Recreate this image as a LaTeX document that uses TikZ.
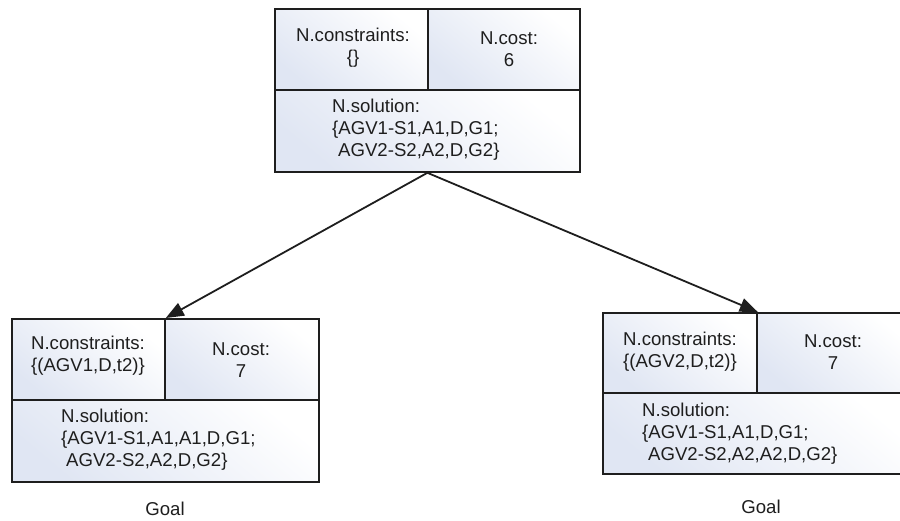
\documentclass[tikz,border=0pt]{standalone}
\usepackage{fontspec}
\setmainfont{Liberation Sans}
\usetikzlibrary{arrows.meta}
\definecolor{inkc}{RGB}{30,30,30}
\definecolor{cellshade}{RGB}{224,230,243}
\tikzset{
  cell/.style={draw=inkc, line width=1.8pt, anchor=north west, inner sep=0pt,
    top color=white, bottom color=cellshade, shading angle=-40},
  txt/.style={text=inkc, inner sep=0pt, font=\fontsize{18.6}{22}\selectfont},
  ctxt/.style={txt, align=center},
  ltxt/.style={txt, align=left, anchor=west},
  link/.style={draw=inkc, line width=1.8pt, -{Triangle[length=18pt,width=14pt]}}
}
\begin{document}
\begin{tikzpicture}[x=1pt,y=-1pt]
\useasboundingbox (0,0) rectangle (900,520);
\clip (0,0) rectangle (900,520);
% top box
\node[cell, minimum width=153pt, minimum height=81pt] (tc) at (274,8) {};
\node[cell, minimum width=152pt, minimum height=81pt] (tk) at (427,8) {};
\node[cell, minimum width=305pt, minimum height=82pt] (ts) at (274,89) {};
\node[ctxt] (tct) at (353,48) {N.constraints:\\\{\}};
\node[ctxt] (tkt) at (509,49) {N.cost:\\6};
\node[ltxt] (tst) at (332,130) {N.solution:\\\{AGV1-S1,A1,D,G1;\\\hspace{6pt}AGV2-S2,A2,D,G2\}};
% left box
\node[cell, minimum width=153pt, minimum height=81pt] (lc) at (11,318) {};
\node[cell, minimum width=154pt, minimum height=81pt] (lk) at (164,318) {};
\node[cell, minimum width=307pt, minimum height=82pt] (ls) at (11,399) {};
\node[ctxt] (lct) at (88,356) {N.constraints:\\\{(AGV1,D,t2)\}};
\node[ctxt] (lkt) at (241,360) {N.cost:\\7};
\node[ltxt] (lst) at (61,440) {N.solution:\\\{AGV1-S1,A1,A1,D,G1;\\\hspace{5pt}AGV2-S2,A2,D,G2\}};
\node[txt] (lgoal) at (165,509) {Goal};
% right box
\node[cell, minimum width=154pt, minimum height=80pt] (rc) at (602,312) {};
\node[cell, minimum width=154pt, minimum height=80pt] (rk) at (756,312) {};
\node[cell, minimum width=308pt, minimum height=81pt] (rs) at (602,392) {};
\node[ctxt] (rct) at (680,352) {N.constraints:\\\{(AGV2,D,t2)\}};
\node[ctxt] (rkt) at (833,352) {N.cost:\\7};
\node[ltxt] (rst) at (642,434) {N.solution:\\\{AGV1-S1,A1,D,G1;\\\hspace{6pt}AGV2-S2,A2,A2,D,G2\}};
\node[txt] (rgoal) at (761,507) {Goal};
% connectors
\draw[link] (ts.south) -- (lc.north east);
\draw[link] (ts.south) -- (rc.north east);
\end{tikzpicture}
\end{document}
